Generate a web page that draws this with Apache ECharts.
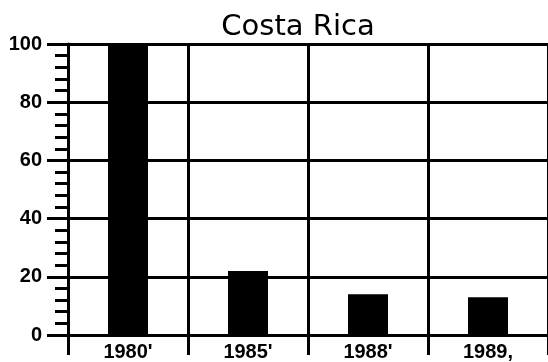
<!DOCTYPE html>
<html>
<head>
    <meta charset="utf-8">
    <script src="https://cdn.jsdelivr.net/npm/echarts@6/dist/echarts.min.js"></script>
    <style>
        html, body { margin: 0; padding: 0; background: #fff; }
        #main { width: 548px; height: 362px; }
    </style>
</head>
<body>
    <div id="main"></div>
    <script type="text/javascript">
        var years = ["1980'", "1985'", "1988'", "1989,"];
        var values = [100, 22, 14, 13];
        var yTicks = [0, 20, 40, 60, 80, 100];

        var labelFont = '"Liberation Sans Narrow", "Liberation Sans", sans-serif';

        var myChart = echarts.init(document.getElementById('main'));
        myChart.setOption({
            animation: false,
            backgroundColor: '#fff',
            title: {
                text: 'Costa Rica',
                left: 293,
                textAlign: 'center',
                top: 8,
                textStyle: {
                    fontFamily: '"DejaVu Sans", sans-serif',
                    fontSize: 29,
                    fontWeight: 'normal',
                    color: '#000'
                }
            },
            grid: {
                left: 68,
                right: -3,
                top: 44,
                bottom: 27
            },
            xAxis: {
                type: 'category',
                data: years,
                axisLine: { lineStyle: { color: '#000', width: 3 } },
                axisTick: { show: true, length: 20, lineStyle: { color: '#000', width: 3 } },
                splitLine: { show: true, lineStyle: { color: '#000', width: 3 } },
                axisLabel: {
                    margin: 7,
                    color: '#000',
                    fontFamily: labelFont,
                    fontSize: 20,
                    fontWeight: 'bold'
                }
            },
            yAxis: {
                type: 'value',
                min: yTicks[0],
                max: yTicks[yTicks.length - 1],
                interval: 20,
                axisLine: { show: true, lineStyle: { color: '#000', width: 3 } },
                axisTick: { show: true, length: 21, lineStyle: { color: '#000', width: 3 } },
                minorTick: { show: true, splitNumber: 5, length: 13, lineStyle: { color: '#000', width: 3 } },
                splitLine: { show: true, lineStyle: { color: '#000', width: 3 } },
                axisLabel: {
                    margin: 26,
                    color: '#000',
                    fontFamily: labelFont,
                    fontSize: 20,
                    fontWeight: 'bold'
                }
            },
            series: [{
                type: 'bar',
                data: values,
                barWidth: 40,
                itemStyle: { color: '#000' }
            }]
        });
    </script>
</body>
</html>
